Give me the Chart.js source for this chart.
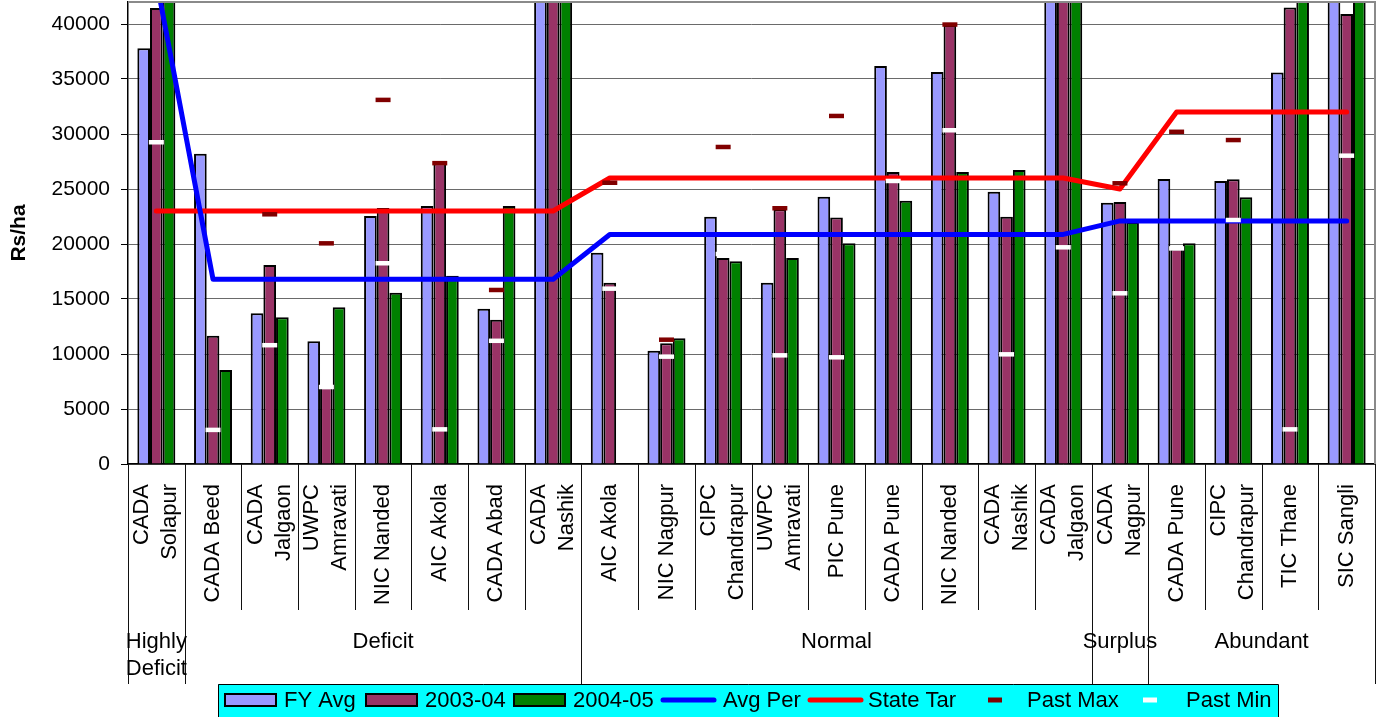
<!DOCTYPE html>
<html>
<head>
<meta charset="utf-8">
<script src="https://cdn.jsdelivr.net/npm/chart.js@4.4.1/dist/chart.umd.min.js"></script>
<style>
  html, body { margin: 0; padding: 0; background: #ffffff; }
  canvas { display: block; }
</style>
</head>
<body>
<canvas id="chart" width="1384" height="717"></canvas>
<script>
// Irrigation projects, each shown as wrapped label lines
const categoryLabels = [
  ["CADA", "Solapur"], ["CADA Beed"], ["CADA", "Jalgaon"], ["UWPC", "Amravati"],
  ["NIC Nanded"], ["AIC Akola"], ["CADA Abad"], ["CADA", "Nashik"],
  ["AIC Akola"], ["NIC Nagpur"], ["CIPC", "Chandrapur"], ["UWPC", "Amravati"],
  ["PIC Pune"], ["CADA Pune"], ["NIC Nanded"], ["CADA", "Nashik"],
  ["CADA", "Jalgaon"], ["CADA", "Nagpur"], ["CADA Pune"], ["CIPC", "Chandrapur"],
  ["TIC Thane"], ["SIC Sangli"]
];

// Water-availability zones and how many projects each covers
const groupLabels = [["Highly", "Deficit"], ["Deficit"], ["Normal"], ["Surplus"], ["Abundant"]];
const groupSizes = [1, 7, 9, 1, 4];

// Rs/ha values
const fyAvg    = [37800, 28200, 13700, 11150, 22550, 23450, 14120, 45000, 19200, 10300, 22480, 16480, 24300, 36180, 35640, 24760, 44000, 23760, 25910, 25730, 35600, 44500];
const y2003_04 = [41450, 11650, 18100, 6970, 23270, 27350, 13120, 46000, 16480, 10970, 18730, 23150, 22420, 26550, 39900, 22480, 45500, 23820, 19600, 25880, 41500, 40900];
const y2004_05 = [43500, 8550, 13340, 14250, 15570, 17120, 23450, 44800, null, 11430, 18430, 18730, 20060, 23940, 26550, 26730, 44200, 22000, 20060, 24240, 43000, 44000];
const avgPer   = [44000, 16800, 16800, 16800, 16800, 16800, 16800, 16800, 20870, 20870, 20870, 20870, 20870, 20870, 20870, 20870, 20870, 22100, 22100, 22100, 22100, 22100];
const stateTar = [23000, 23000, 23000, 23000, 23000, 23000, 23000, 23000, 26000, 26000, 26000, 26000, 26000, 26000, 26000, 26000, 26000, 25000, 32000, 32000, 32000, 32000];
const pastMax  = [null, null, 22700, 20060, 33100, 27350, 15820, null, 25570, 11300, 28820, 23250, 31640, null, 39950, null, null, 25520, 30200, 29450, null, null];
const pastMin  = [29250, 3100, 10800, 7000, 18250, 3150, 11200, null, 15940, 9760, 19090, 9880, 9700, 25730, 30340, 9970, 19700, 15520, 19600, 22180, 3150, 28030];

// Value axis
const yMax = 42000;
const yTickValues = [0, 5000, 10000, 15000, 20000, 25000, 30000, 35000, 40000];

const FONT = "'Liberation Sans', Arial, Helvetica, sans-serif";

// Axis furniture drawn beneath the plot: category labels, zone labels, separators and the legend band
const furniture = {
  id: 'furniture',
  afterDraw(chart) {
    const { ctx, chartArea: a, scales: { x } } = chart;
    const n = categoryLabels.length;
    const w = (a.right - a.left) / n;
    ctx.save();

    // plot frame (top and right)
    ctx.strokeStyle = '#8a8a8a';
    ctx.lineWidth = 2;
    ctx.beginPath();
    ctx.moveTo(a.left, a.top);
    ctx.lineTo(a.right, a.top);
    ctx.lineTo(a.right, a.bottom);
    ctx.stroke();

    // separators between categories, longer ones between zones
    const zoneEdges = new Set([0]);
    let acc = 0;
    groupSizes.forEach(s => { acc += s; zoneEdges.add(acc); });
    ctx.strokeStyle = '#111';
    ctx.lineWidth = 1;
    for (let k = 0; k <= n; k++) {
      const px = Math.round(a.left + k * w) + 0.5;
      ctx.beginPath();
      ctx.moveTo(px, a.bottom);
      ctx.lineTo(px, zoneEdges.has(k) ? 684 : 610);
      ctx.stroke();
    }

    // rotated category labels
    ctx.fillStyle = '#000';
    ctx.font = `22px ${FONT}`;
    ctx.textAlign = 'right';
    ctx.textBaseline = 'middle';
    categoryLabels.forEach((lines, i) => {
      const cx = x.getPixelForValue(i);
      ctx.save();
      ctx.translate(cx, a.bottom + 20);
      ctx.rotate(-Math.PI / 2);
      lines.forEach((t, j) => ctx.fillText(t, 0, (j - (lines.length - 1) / 2) * 28));
      ctx.restore();
    });

    // zone labels
    ctx.textAlign = 'center';
    let start = 0;
    groupLabels.forEach((lines, g) => {
      const x0 = a.left + start * w;
      const x1 = a.left + (start + groupSizes[g]) * w;
      lines.forEach((t, j) => ctx.fillText(t, (x0 + x1) / 2, 642 + j * 27));
      start += groupSizes[g];
    });

    // legend band
    ctx.fillStyle = '#00FFFF';
    ctx.fillRect(218, 684, 1060, 40);
    ctx.strokeStyle = '#000';
    ctx.lineWidth = 1;
    ctx.beginPath();
    ctx.moveTo(218.5, 720);
    ctx.lineTo(218.5, 684.5);
    ctx.lineTo(1278.5, 684.5);
    ctx.lineTo(1278.5, 720);
    ctx.stroke();

    const symbolX = [224, 365, 513, 661, 808, 968, 1123];
    const textX = [284, 425, 573, 723, 868, 1027, 1186];
    const ly = 700;
    chart.data.datasets.forEach((ds, i) => {
      const sx = symbolX[i];
      if (ds.type === 'bar' || !ds.type) {
        ctx.fillStyle = ds.backgroundColor;
        ctx.fillRect(sx, ly - 7, 53, 14);
        ctx.strokeStyle = '#000';
        ctx.lineWidth = 2;
        ctx.strokeRect(sx + 1, ly - 6, 51, 12);
      } else if (ds.showLine === false) {
        ctx.strokeStyle = ds.pointBorderColor;
        ctx.lineWidth = 5;
        ctx.beginPath();
        ctx.moveTo(sx + 20, ly);
        ctx.lineTo(sx + 34, ly);
        ctx.stroke();
      } else {
        ctx.strokeStyle = ds.borderColor;
        ctx.lineWidth = 5;
        ctx.lineCap = 'round';
        ctx.beginPath();
        ctx.moveTo(sx + 2, ly);
        ctx.lineTo(sx + 53, ly);
        ctx.stroke();
        ctx.lineCap = 'butt';
      }
      ctx.fillStyle = '#000';
      ctx.font = `22px ${FONT}`;
      ctx.textAlign = 'left';
      ctx.textBaseline = 'middle';
      ctx.fillText(ds.label, textX[i], ly + 1);
    });

    ctx.restore();
  }
};

const barStyle = { borderColor: '#000000', borderWidth: 2, categoryPercentage: 0.67, barPercentage: 1.0, order: 3 };
const markerStyle = { type: 'line', showLine: false, pointStyle: 'line', pointRadius: 7.5, pointHoverRadius: 7.5, pointBorderWidth: 4.5, order: 1 };
const lineStyle = { type: 'line', borderWidth: 5, pointRadius: 0, pointHoverRadius: 0, borderJoinStyle: 'round', borderCapStyle: 'round', tension: 0, order: 2 };

new Chart(document.getElementById('chart'), {
  type: 'bar',
  data: {
    labels: categoryLabels.map(l => l.join(' ')),
    datasets: [
      { ...barStyle, label: 'FY Avg', data: fyAvg, backgroundColor: '#9999FF' },
      { ...barStyle, label: '2003-04', data: y2003_04, backgroundColor: '#993366' },
      { ...barStyle, label: '2004-05', data: y2004_05, backgroundColor: '#008000' },
      { ...lineStyle, label: 'Avg Per', data: avgPer, borderColor: '#0000FF', backgroundColor: '#0000FF' },
      { ...lineStyle, label: 'State Tar', data: stateTar, borderColor: '#FF0000', backgroundColor: '#FF0000' },
      { ...markerStyle, label: 'Past Max', data: pastMax, pointBorderColor: '#800000', pointBackgroundColor: '#800000', borderColor: '#800000' },
      { ...markerStyle, label: 'Past Min', data: pastMin, pointBorderColor: '#FFFFFF', pointBackgroundColor: '#FFFFFF', borderColor: '#FFFFFF' }
    ]
  },
  options: {
    responsive: false,
    animation: false,
    devicePixelRatio: 1,
    layout: { autoPadding: false, padding: { top: 2, right: 9, bottom: 0, left: 0 } },
    plugins: {
      legend: { display: false },
      tooltip: { enabled: false },
      title: { display: false }
    },
    scales: {
      x: {
        offset: true,
        ticks: { display: false },
        grid: { display: false },
        border: { display: true, color: '#000000', width: 1.5 },
        afterFit(scale) {
          scale.height = 253;
          scale.paddingLeft = 0;
          scale.paddingRight = 0;
        }
      },
      y: {
        min: 0,
        max: yMax,
        afterBuildTicks(scale) {
          scale.ticks = yTickValues.map(v => ({ value: v }));
        },
        ticks: {
          autoSkip: false,
          color: '#000000',
          padding: 11,
          font: { family: FONT, size: 21 },
          callback: v => String(v)
        },
        grid: { color: '#6a6a6a', lineWidth: 1, tickLength: 7, tickColor: '#000000', drawTicks: true },
        border: { display: true, color: '#000000', width: 1.5 },
        title: {
          display: true,
          text: 'Rs/ha',
          color: '#000000',
          font: { family: FONT, size: 21, weight: 'bold' },
          padding: { top: 7, bottom: 0 }
        },
        afterFit(scale) {
          scale.width = 128;
          scale.paddingTop = 0;
          scale.paddingBottom = 0;
        }
      }
    }
  },
  plugins: [furniture]
});
</script>
</body>
</html>
